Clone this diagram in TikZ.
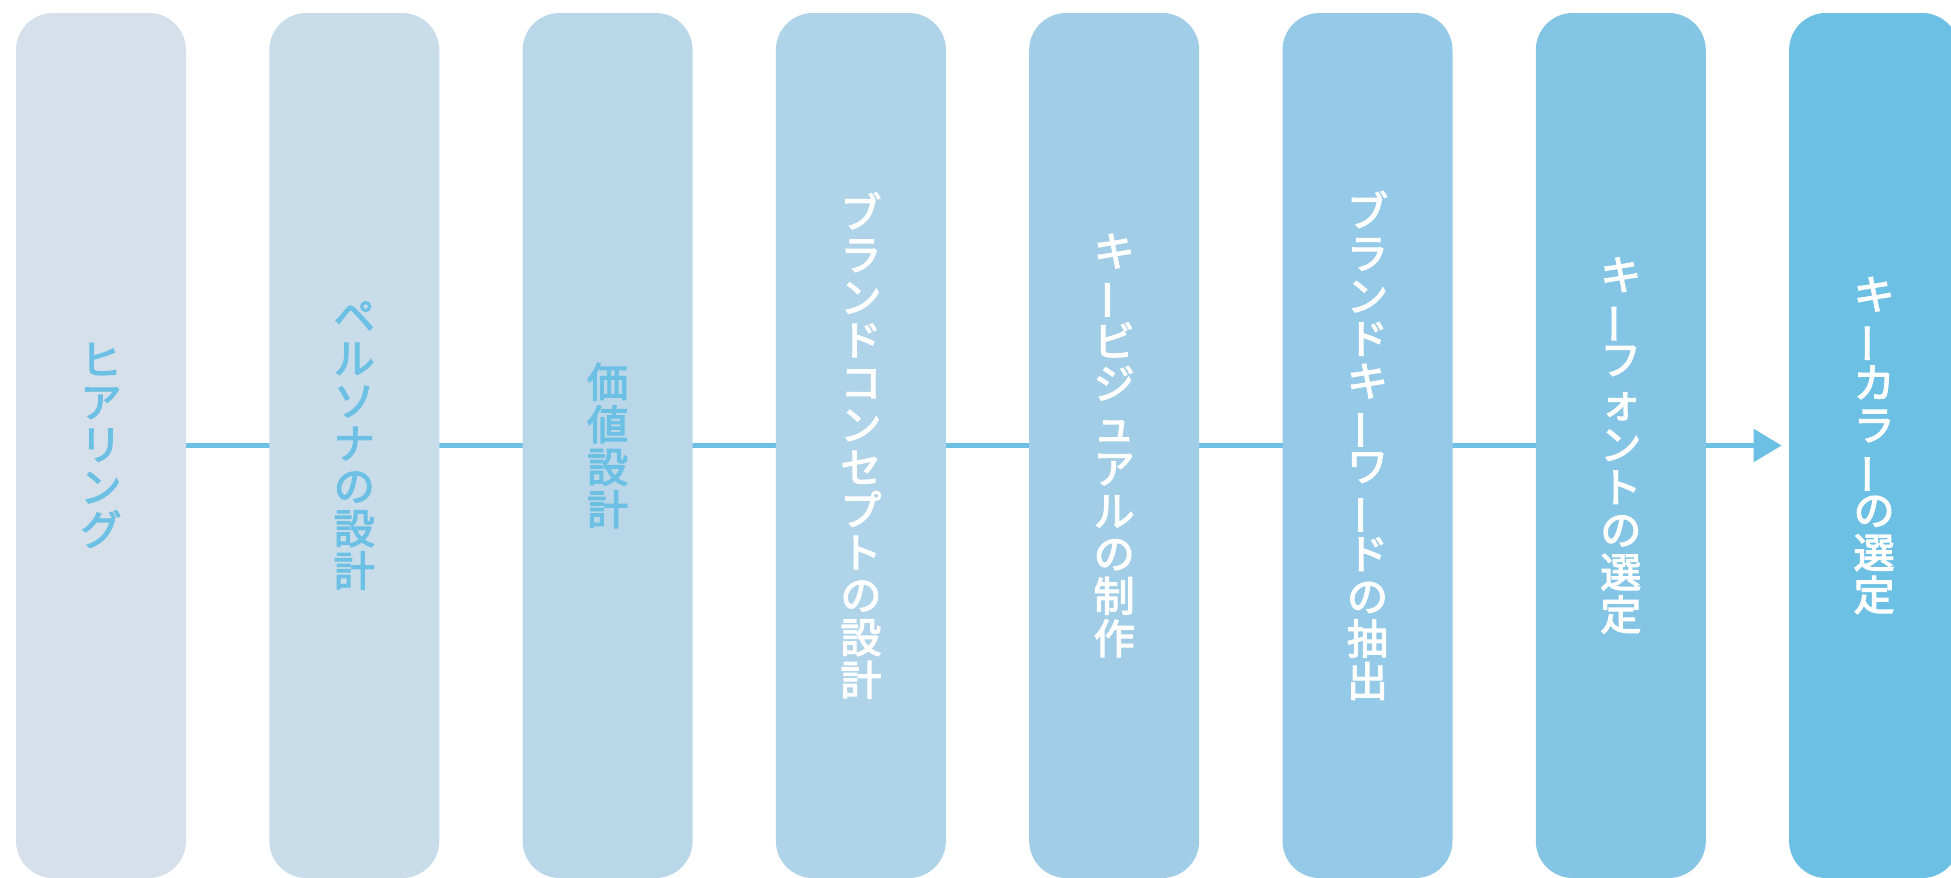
\documentclass[tikz,border=0pt]{standalone}
\usepackage{fontspec}
\usepackage{graphicx}
\newfontfamily\jp[FakeBold=3]{Noto Sans CJK JP}
\usetikzlibrary{arrows.meta,backgrounds}
\definecolor{accent}{HTML}{6CC0E4}
\definecolor{ca}{HTML}{D6E0EA}
\definecolor{cb}{HTML}{C8DCEA}
\definecolor{cc}{HTML}{BAD7E9}
\definecolor{cd}{HTML}{AFD3E8}
\definecolor{ce}{HTML}{A1CDE7}
\definecolor{cf}{HTML}{94C9E7}
\definecolor{cg}{HTML}{84C5E6}
\definecolor{ch}{HTML}{6CC0E4}
\newcommand\vbar{\rotatebox[origin=c]{90}{ー}}
\begin{document}
\begin{tikzpicture}[x=0.5pt,y=-0.5pt,
  stepbox/.style={rounded corners=18.5pt, minimum width=85pt, minimum height=432.5pt,
    inner sep=0pt, align=center, text=white,
    font=\jp\fontsize{20.5pt}{21.25pt}\selectfont},
  flow/.style={draw=accent, line width=2.5pt, shorten >=3.5pt,
    -{Triangle[length=14pt,width=16pt]}}]
\useasboundingbox (0,0) rectangle (1951,878);
\clip (0,0) rectangle (1951,878);
\node[stepbox, fill=ca, text=accent] (b1) at (101,445.5) {ヒ\\ア\\リ\\ン\\グ};
\node[stepbox, fill=cb, text=accent] (b2) at (354.3,445.5) {ペ\\ル\\ソ\\ナ\\の\\設\\計};
\node[stepbox, fill=cc, text=accent] (b3) at (607.6,445.5) {価\\値\\設\\計};
\node[stepbox, fill=cd] (b4) at (860.9,445.5) {ブ\\ラ\\ン\\ド\\コ\\ン\\セ\\プ\\ト\\の\\設\\計};
\node[stepbox, fill=ce] (b5) at (1114.2,445.5) {キ\\\vbar\\ビ\\ジ\\ュ\\ア\\ル\\の\\制\\作};
\node[stepbox, fill=cf] (b6) at (1367.5,445.5) {ブ\\ラ\\ン\\ド\\キ\\\vbar\\ワ\\\vbar\\ド\\の\\抽\\出};
\node[stepbox, fill=cg] (b7) at (1620.8,445.5) {キ\\\vbar\\フ\\ォ\\ン\\ト\\の\\選\\定};
\node[stepbox, fill=ch] (b8) at (1874.1,445.5) {キ\\\vbar\\カ\\ラ\\\vbar\\の\\選\\定};
\begin{scope}[on background layer]
\draw[flow] (b1.east) -- (b8.west);
\end{scope}
\end{tikzpicture}
\end{document}
